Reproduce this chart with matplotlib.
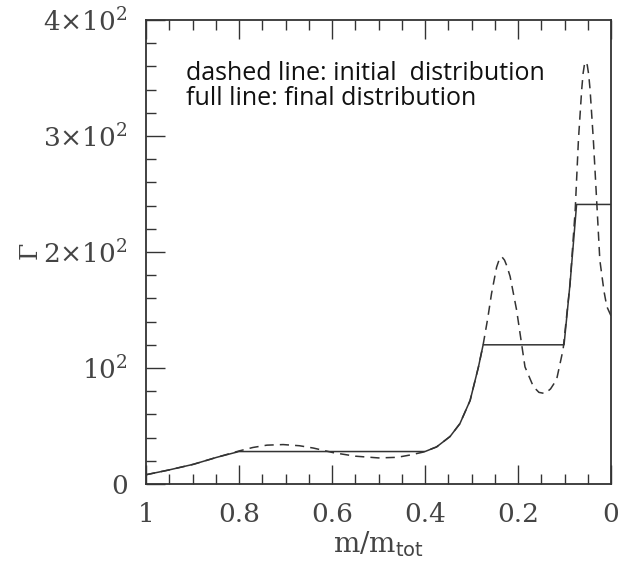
import matplotlib
matplotlib.use("Agg")
import matplotlib.pyplot as plt
from matplotlib.ticker import MultipleLocator

# initial distribution (dashed)
init_x = [1.0, 0.952, 0.898, 0.848, 0.80, 0.77, 0.74, 0.705, 0.67, 0.64, 0.597, 0.55,
          0.50, 0.46, 0.432, 0.404, 0.375, 0.346, 0.325, 0.303, 0.285, 0.275, 0.265,
          0.257, 0.246, 0.240, 0.235, 0.229, 0.224, 0.217, 0.203, 0.185, 0.167, 0.155,
          0.142, 0.130, 0.117, 0.103, 0.088, 0.077, 0.070, 0.063, 0.060, 0.057, 0.054,
          0.051, 0.048, 0.045, 0.038, 0.032, 0.024, 0.015, 0.009, 0.0]
init_y = [8, 12, 17, 23, 28.5, 31.5, 33.5, 34, 33, 31, 27, 24,
          22.5, 23, 25, 27.5, 32, 41, 52, 72, 101, 120, 143,
          164, 187, 194, 196, 193, 188, 179, 150, 101, 84, 79,
          78, 82, 90, 116, 173, 236, 297, 340, 354, 362, 364,
          361, 353, 340, 297, 253, 193, 166, 153, 145]

# final distribution (full line)
final_x = [1.0, 0.952, 0.898, 0.848, 0.80, 0.40, 0.375, 0.346, 0.325, 0.303, 0.285,
           0.275, 0.101, 0.088, 0.074, 0.0]
final_y = [8, 12, 17, 23, 28, 28, 32, 41, 52, 72, 101,
           120, 120, 173, 241, 241]

y_ticks = [0, 100, 200, 300, 400]
y_labels = ['0', r'$10^{2}$', r'$2{\times}10^{2}$', r'$3{\times}10^{2}$', r'$4{\times}10^{2}$']
x_ticks = [1, 0.8, 0.6, 0.4, 0.2, 0]
x_labels = ['1', '0.8', '0.6', '0.4', '0.2', '0']

plt.rcParams['mathtext.fontset'] = 'dejavuserif'
plt.rcParams['font.family'] = 'DejaVu Serif'

fig = plt.figure(figsize=(6.25, 5.78), dpi=100)
ax = fig.add_axes([0.2336, 0.1626, 0.744, 0.8028])

ax.plot(init_x, init_y, color='#333333', lw=1.1, dashes=(6, 4))
ax.plot(final_x, final_y, color='#333333', lw=1.1)

ax.set_xlim(1, 0)
ax.set_ylim(0, 400)

ax.set_xticks(x_ticks)
ax.set_xticklabels(x_labels)
ax.set_yticks(y_ticks)
ax.set_yticklabels(y_labels)
ax.xaxis.set_minor_locator(MultipleLocator(0.05))
ax.yaxis.set_minor_locator(MultipleLocator(20))

ax.tick_params(which='both', direction='in', top=True, right=False,
               colors='#333333', labelsize=19, width=1.0)
ax.tick_params(which='major', length=14)
ax.tick_params(which='minor', length=7)
ax.tick_params(axis='x', pad=13, labelcolor='#444444')
ax.tick_params(axis='y', pad=13, labelcolor='#444444')

for s in ax.spines.values():
    s.set_color('#333333')
    s.set_linewidth(1.3)

ax.set_xlabel(r'$\mathrm{m/m}_{\mathsf{tot}}$', fontsize=20, color='#444444', labelpad=2)
ax.set_ylabel(r'$\Gamma$', fontsize=18, color='#444444', labelpad=0)

ax.text(0.087, 0.884, 'dashed line: initial  distribution', transform=ax.transAxes,
        fontsize=18, family='Open Sans', color='#111111', va='center')
ax.text(0.087, 0.830, 'full line: final distribution', transform=ax.transAxes,
        fontsize=18, family='Open Sans', color='#111111', va='center')

fig.savefig('out.png', dpi=100)
